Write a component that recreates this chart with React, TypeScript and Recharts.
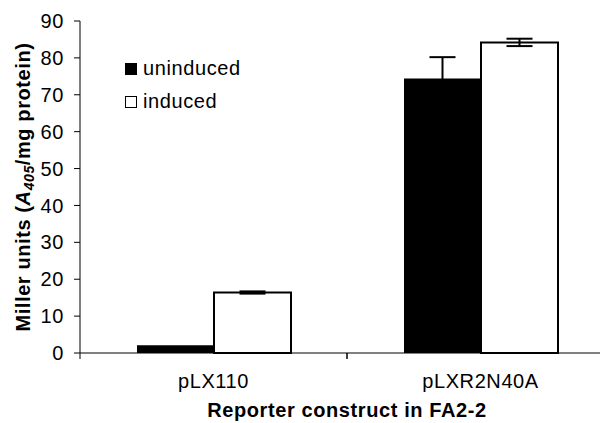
import { Bar, BarChart, ErrorBar, Label, Legend, XAxis, YAxis } from "recharts";

const categories = ["pLX110", "pLXR2N40A"];
const uninduced = [2.1, 74.4];
const uninducedErr = [0, 5.8];
const induced = [16.4, 84.2];
const inducedErr = [0.3, 1.0];
const yTicks = [0, 10, 20, 30, 40, 50, 60, 70, 80, 90];

const data = categories.map((name, i) => ({
  name,
  uninduced: uninduced[i],
  uninducedErr: uninducedErr[i],
  induced: induced[i],
  inducedErr: inducedErr[i],
}));

const FONT = "'Liberation Sans', Arial, sans-serif";
const FS = 20;
const LS = 0.6;
const BAND = 267;

// category tick: label in the middle, tick marks on the band edges
function CatTick(props: any) {
  const { x, y, payload } = props;
  return (
    <g>
      <line x1={x - BAND / 2} y1={y - 8} x2={x - BAND / 2} y2={y - 2} stroke="#000" />
      <line x1={x + BAND / 2} y1={y - 8} x2={x + BAND / 2} y2={y - 2} stroke="#000" />
      <text
        x={x}
        y={y + 27}
        textAnchor="middle"
        fontSize={FS}
        letterSpacing={LS}
        fontFamily={FONT}
        fill="#000"
      >
        {payload.value}
      </text>
    </g>
  );
}

function LegendBox() {
  const items = [
    { label: "uninduced", fill: "#000" },
    { label: "induced", fill: "#fff" },
  ];
  return (
    <div style={{ fontFamily: FONT, fontSize: FS, letterSpacing: LS, color: "#000" }}>
      {items.map((it) => (
        <div key={it.label} style={{ display: "flex", alignItems: "center", height: 33 }}>
          <span
            style={{
              display: "inline-block",
              boxSizing: "border-box",
              width: 12,
              height: 12,
              background: it.fill,
              border: "1.5px solid #000",
              marginRight: 6,
            }}
          />
          {it.label}
        </div>
      ))}
    </div>
  );
}

function YLabel() {
  return (
    <text
      transform="translate(30,187) rotate(-90)"
      textAnchor="middle"
      fontSize={FS}
      letterSpacing={LS}
      fontWeight="bold"
      fontFamily={FONT}
      fill="#000"
    >
      Miller units (
      <tspan fontStyle="italic">A</tspan>
      <tspan fontSize={14} dy={4} fontStyle="italic">405</tspan>
      <tspan dy={-4}>/mg protein)</tspan>
    </text>
  );
}

function XLabel() {
  return (
    <text
      x={347}
      y={417}
      textAnchor="middle"
      fontSize={FS}
      letterSpacing={LS}
      fontWeight="bold"
      fontFamily={FONT}
      fill="#000"
    >
      Reporter construct in FA2-2
    </text>
  );
}

export default function App() {
  return (
    <div
      style={{
        position: "fixed",
        left: 0,
        top: 0,
        width: 600,
        height: 423,
        overflow: "hidden",
        background: "#fff",
      }}
    >
      <BarChart
        width={614}
        height={423}
        data={data}
        margin={{ top: 21, right: 0, left: 0, bottom: 0 }}
        barGap={0}
        barSize={77}
      >
        <XAxis
          dataKey="name"
          height={70}
          stroke="#000"
          tickLine={false}
          tick={<CatTick />}
          interval={0}
        >
          <Label content={<XLabel />} />
        </XAxis>
        <YAxis
          width={80}
          domain={[0, 90]}
          ticks={yTicks}
          stroke="#000"
          tickSize={6}
          tickMargin={10}
          tick={{ fontFamily: FONT, fontSize: FS, letterSpacing: LS, fill: "#000" }}
          label={<YLabel />}
        />
        <Legend
          layout="vertical"
          verticalAlign="middle"
          align="center"
          content={<LegendBox />}
          wrapperStyle={{ left: 125, top: 52, width: 160 }}
        />
        <Bar dataKey="uninduced" fill="#000" isAnimationActive={false}>
          <ErrorBar dataKey="uninducedErr" width={13} stroke="#000" strokeWidth={2} />
        </Bar>
        <Bar dataKey="induced" fill="#fff" stroke="#000" strokeWidth={2} isAnimationActive={false}>
          <ErrorBar dataKey="inducedErr" width={13} stroke="#000" strokeWidth={2} />
        </Bar>
      </BarChart>
    </div>
  );
}
